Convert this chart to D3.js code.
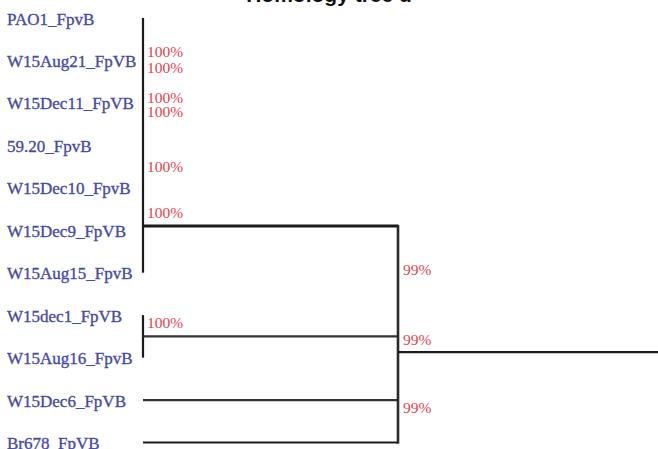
<!DOCTYPE html>
<html>
<head>
<meta charset="utf-8">
<script src="https://cdn.jsdelivr.net/npm/d3@7"></script>
<style>
  html, body { margin: 0; padding: 0; background: #fff; }
  svg { display: block; }
</style>
</head>
<body>
<svg id="chart" width="658" height="449"></svg>
<script>
// Leaf names, top to bottom
const leaves = [
  "PAO1_FpvB", "W15Aug21_FpVB", "W15Dec11_FpVB", "59.20_FpvB", "W15Dec10_FpvB",
  "W15Dec9_FpVB", "W15Aug15_FpvB", "W15dec1_FpVB", "W15Aug16_FpvB",
  "W15Dec6_FpVB", "Br678_FpVB"
];

// Clades joined at the root: first and last leaf index, and where the stem leaves the clade (leaf units)
const cladeFirst = [0, 7, 9, 10];
const cladeLast  = [6, 8, 9, 10];
const cladeStem  = [4.9, 7.5, 9, 10];

// Root node: stem position in leaf units
const rootStem = 7.87;

// Bootstrap support inside the collapsed clades (at the leaf level)
const innerSupport   = ["100%", "100%", "100%", "100%", "100%", "100%", "100%"];
const innerSupportAt = [0.92, 1.3, 2.0, 2.33, 3.63, 4.71, 7.3];

// Bootstrap support at the root join
const rootSupport   = ["99%", "99%", "99%"];
const rootSupportAt = [6.05, 7.7, 9.3];

const W = 658, H = 449;
const svg = d3.select("#chart");

const y = d3.scaleLinear().domain([0, leaves.length - 1]).range([18, 442.5]);
const x = d3.scaleLinear().domain([0, 1]).range([143, 398]);

const labelColor = "#464ba3";
const supportColor = "#e2444e";
const lineColor = "#1a1a1a";

// Title (runs off the top edge)
svg.append("text")
  .attr("x", 329).attr("y", 2)
  .attr("text-anchor", "middle")
  .attr("font-family", "Liberation Sans, Arial, sans-serif")
  .attr("font-weight", "bold")
  .attr("font-size", 21)
  .attr("fill", "#111")
  .text("Homology tree d");

// Leaf labels
svg.append("g").selectAll("text").data(leaves).join("text")
  .attr("x", 7)
  .attr("y", (d, i) => y(i) + 6.5)
  .attr("font-family", "Liberation Serif, Times New Roman, serif")
  .attr("font-size", 17)
  .attr("fill", labelColor)
  .attr("stroke", labelColor)
  .attr("stroke-width", 0.35)
  .text(d => d);

const g = svg.append("g").attr("fill", "none").attr("stroke", lineColor);

// Vertical bars of multi-leaf clades
cladeFirst.forEach((f, k) => {
  const l = cladeLast[k];
  if (l > f) {
    g.append("line")
      .attr("x1", x(0)).attr("x2", x(0))
      .attr("y1", y(f)).attr("y2", y(l))
      .attr("stroke-width", 2.2);
  }
});

// Stems from each clade to the root node
cladeStem.forEach((s, k) => {
  g.append("line")
    .attr("x1", x(0)).attr("x2", x(1))
    .attr("y1", y(s)).attr("y2", y(s))
    .attr("stroke-width", k === 0 ? 3 : 2.2)
    .attr("stroke", k === 1 || k === 2 ? "#333" : lineColor);
});

// Root vertical
g.append("line")
  .attr("x1", x(1)).attr("x2", x(1))
  .attr("y1", y(d3.min(cladeStem)) - 1.2).attr("y2", y(d3.max(cladeStem)) + 1.2)
  .attr("stroke-width", 2.6)
  .attr("stroke", "#2a2a2a");

// Root stem out to the right edge
g.append("line")
  .attr("x1", x(1)).attr("x2", W)
  .attr("y1", y(rootStem)).attr("y2", y(rootStem))
  .attr("stroke-width", 2.2);

// Support values
svg.append("g").selectAll("text").data(innerSupport).join("text")
  .attr("x", x(0) + 4)
  .attr("y", (d, i) => y(innerSupportAt[i]))
  .attr("font-family", "Liberation Serif, Times New Roman, serif")
  .attr("font-size", 15.5)
  .attr("fill", supportColor)
  .text(d => d);

svg.append("g").selectAll("text").data(rootSupport).join("text")
  .attr("x", x(1) + 5)
  .attr("y", (d, i) => y(rootSupportAt[i]))
  .attr("font-family", "Liberation Serif, Times New Roman, serif")
  .attr("font-size", 15.5)
  .attr("fill", supportColor)
  .text(d => d);
</script>
</body>
</html>
